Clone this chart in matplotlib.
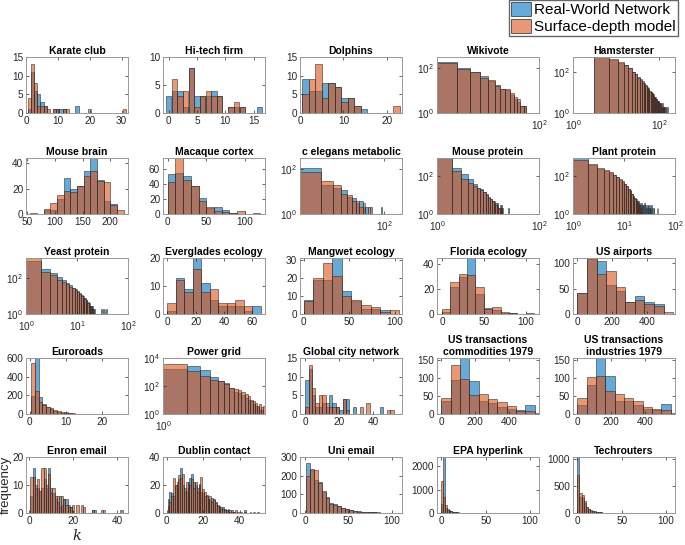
import numpy as np
import matplotlib.pyplot as plt
from matplotlib.patches import Patch
from matplotlib.ticker import NullLocator

plt.rcParams['font.family'] = ['Liberation Sans', 'DejaVu Sans']
plt.rcParams['mathtext.fontset'] = 'custom'
plt.rcParams['mathtext.rm'] = 'Liberation Sans'
plt.rcParams['mathtext.it'] = 'Liberation Sans:italic'
plt.rcParams['mathtext.bf'] = 'Liberation Sans:bold'

BLUE = (0.0, 0.447, 0.741)
ORANGE = (0.85, 0.325, 0.098)

# ---- counts per bin (real network / model) ----
karate_real = [1, 11, 6, 5, 3, 2, 0, 0, 1, 1, 1, 1, 0, 0, 0, 2, 0, 0, 0, 0, 0, 0, 0, 0, 0, 0, 0, 0, 0, 0, 0]
karate_model = [4, 13, 8, 2, 2, 2, 1, 0, 1, 1, 0, 1, 1, 0, 0, 0, 0, 0, 0, 1, 0, 0, 0, 0, 0, 0, 0, 0, 0, 0, 1]

hitech_real = [3, 4, 4, 1, 8, 3, 3, 3, 4, 3, 0, 1, 1, 1, 0, 0, 1]
hitech_model = [0, 6, 3, 4, 8, 1, 3, 4, 3, 3, 0, 1, 2, 1, 0, 0, 0]

dolphins_real = [9, 6, 6, 8, 8, 7, 4, 4, 2, 1, 0, 0, 0, 0, 0]
dolphins_model = [5, 9, 13, 4, 8, 7, 3, 4, 2, 0, 0, 0, 0, 0, 2]

wikivote_real = [185, 93, 66, 42, 26, 17, 12, 10, 6, 4, 3, 2, 2]
wikivote_model = [170, 88, 66, 36, 29, 16, 11, 12, 8, 5, 4, 2, 2]

hamster_real = [520, 380, 270, 215, 150, 100, 75, 55, 42, 34, 26, 22, 19, 15, 12, 11, 9, 7, 6, 6,
                5, 4, 4, 4, 3, 3, 3, 2, 3, 2, 2, 2, 2, 1, 2, 1, 1, 2, 1, 1]
hamster_model = [500, 400, 290, 205, 160, 95, 78, 50, 44, 30, 27, 20, 17, 16, 11, 10, 8, 8, 6, 5,
                 5, 4, 3, 4, 3, 2, 3, 2, 2, 2, 2, 1, 1, 2, 1, 1, 1, 1, 0, 1]

mbrain_real = [0, 0, 3, 3, 12, 28, 20, 22, 34, 44, 27, 10, 8, 0]
mbrain_model = [1, 0, 4, 9, 15, 18, 17, 22, 30, 34, 26, 25, 7, 3]

macaque_real = [53, 55, 51, 38, 22, 8, 10, 5, 1, 0, 0, 1]
macaque_model = [43, 75, 45, 38, 17, 10, 4, 3, 2, 4, 0, 0]

celegans_real = [110, 20, 15, 12, 6, 5, 3, 4, 2, 2, 1, 2, 1, 0, 1, 1, 0, 2, 1, 0]
celegans_model = [74, 30, 20, 8, 7, 4, 4, 2, 3, 1, 2, 1, 1, 1, 0, 0, 1, 1, 0, 1]

mprotein_real = [900, 270, 122, 67, 40, 25, 20, 14, 11, 8, 6, 5, 4, 4, 3, 2, 2, 3, 2, 0, 0, 0, 0, 0, 2, 0]
mprotein_model = [900, 180, 73, 45, 30, 24, 18, 15, 10, 7, 6, 5, 5, 3, 4, 2, 3, 2, 1, 1, 0, 0, 0, 0, 1, 0]

plant_real = [950, 400, 230, 180, 140, 110, 85, 65, 50, 38, 30, 22, 18, 12, 9, 7, 6, 5, 5, 4,
              3, 4, 3, 3, 4, 3, 2, 3, 3, 2, 3, 2, 2, 3, 2, 0, 2, 2, 0, 0,
              0, 0, 0, 2, 0, 2, 0, 0, 0, 0]
plant_model = [750, 420, 270, 200, 160, 120, 95, 70, 55, 40, 30, 22, 16, 11, 8, 6, 5, 4, 3, 3,
               2, 2, 1, 1, 1, 0, 0, 0, 0, 0, 0, 0, 0, 0, 0, 0, 0, 0, 0, 0,
               0, 0, 0, 0, 0, 0, 0, 0, 0, 0]

yeast_real = [950, 330, 195, 113, 80, 55, 40, 30, 25, 20, 15, 12, 10, 8, 6, 5, 4, 3, 3, 3,
              2, 2, 0, 0, 0, 0, 0, 0, 0, 2, 0, 0, 2, 0, 2, 0, 2, 0, 0, 0]
yeast_model = [1400, 230, 150, 85, 60, 49, 35, 28, 22, 18, 14, 10, 8, 7, 6, 4, 3, 3, 2, 2,
               1, 1, 0, 0, 0, 0, 0, 0, 0, 0, 0, 0, 0, 0, 0, 0, 0, 0, 0, 0]

everglades_real = [1, 13, 9, 20, 11, 5, 3, 3, 3, 1, 3]
everglades_model = [4, 12, 8, 16, 8, 9, 4, 4, 5, 3, 0]

mangwet_real = [8, 19, 19, 31, 13, 7, 3, 3, 2, 0]
mangwet_model = [7, 20, 28, 21, 10, 8, 5, 4, 1, 2]

florida_real = [2, 22, 30, 45, 16, 5, 3, 1, 1, 0, 1]
florida_model = [4, 26, 32, 31, 22, 4, 6, 2, 1, 0, 0]

airports_real = [42, 108, 105, 56, 45, 23, 35, 23, 19, 0]
airports_model = [42, 110, 78, 85, 54, 23, 27, 20, 16, 3]

euroroads_real = [190, 600, 185, 110, 75, 50, 35, 22, 15, 10, 7, 5, 4, 3, 2, 2, 1, 0, 0, 0, 0, 0, 0, 0, 0, 1]
euroroads_model = [546, 245, 125, 100, 80, 60, 45, 35, 25, 18, 12, 8, 5, 3, 2, 1, 1, 0, 0, 0, 0, 0, 0, 0, 0, 0]

power_real = [1740, 2500, 1300, 420, 240, 160, 72, 40, 30, 22, 15, 10, 8, 5, 4, 3, 2, 2, 1]
power_model = [3700, 1250, 550, 280, 240, 130, 72, 63, 50, 35, 25, 20, 10, 8, 6, 4, 5, 3, 4]

city_real = [9, 12, 5, 2, 2, 3, 2, 5, 3, 2, 1, 4, 4, 0, 2, 0, 0, 0, 0, 0, 0, 0, 2, 0, 0, 0]
city_model = [2, 13, 7, 3, 5, 5, 3, 2, 2, 2, 0, 4, 1, 0, 0, 0, 2, 0, 3, 0, 0, 0, 0, 0, 1, 1]

commod_real = [37, 95, 155, 90, 37, 30, 20, 15, 12, 26, 0]
commod_model = [45, 135, 97, 53, 55, 42, 32, 22, 8, 8, 3]

indus_real = [25, 80, 155, 105, 35, 35, 25, 13, 12, 27, 0]
indus_model = [45, 103, 105, 65, 55, 45, 35, 18, 15, 10, 3]

enron_real = [6, 16, 9, 9, 8, 9, 12, 9, 16, 9, 7, 5, 4, 6, 3, 5, 5, 3, 2, 0, 0, 0, 0, 0, 0, 0,
              0, 0, 1, 1, 0, 0, 0, 0, 0, 0, 0, 0, 0, 0, 0, 1, 0]
enron_model = [13, 13, 10, 12, 8, 16, 16, 10, 14, 7, 9, 6, 6, 2, 6, 5, 3, 2, 2, 3, 0, 3, 0, 3, 2, 0,
               0, 0, 1, 0, 0, 0, 1, 1, 0, 0, 0, 0, 0, 0, 0, 0, 0]

dublin_real = [10, 15, 14, 12, 20, 18, 24, 32, 20, 18, 16, 22, 25, 28, 22, 20, 18, 21, 15, 14,
               12, 13, 10, 9, 11, 10, 8, 6, 5, 4, 4, 3, 2, 3, 1, 2, 1, 0, 0, 0,
               0, 0, 2, 0, 0, 0, 0, 0, 0, 1]
dublin_model = [5, 8, 12, 25, 20, 22, 27, 25, 28, 15, 22, 18, 20, 24, 18, 22, 15, 20, 26, 17,
                15, 12, 10, 12, 8, 9, 7, 5, 4, 3, 3, 2, 2, 1, 2, 1, 1, 2, 1, 0,
                1, 0, 1, 0, 0, 1, 0, 1, 0, 0]

uni_real = [270, 230, 175, 165, 110, 85, 55, 50, 35, 28, 22, 18, 12, 10, 8, 6, 5, 3, 3, 2, 2, 1, 0, 1]
uni_model = [200, 235, 230, 160, 120, 80, 50, 45, 38, 25, 20, 15, 10, 8, 6, 5, 4, 3, 2, 2, 1, 1, 1, 0]

epa_real = [400, 2400, 200, 150, 100, 70, 50, 35, 25, 20, 15, 12, 10, 8, 7, 6, 5, 4, 4, 3,
            3, 2, 2, 2, 1, 1, 1, 1, 1, 1, 1, 0, 1, 0, 1, 0, 0, 1, 0, 0,
            1, 0, 0, 0, 1, 0, 0, 0, 0, 1, 0, 0, 0]
epa_model = [1370, 700, 350, 180, 120, 80, 60, 45, 35, 25, 20, 15, 12, 10, 8, 6, 5, 4, 3, 3,
             2, 2, 2, 1, 1, 1, 1, 1, 0, 1, 0, 1, 0, 0, 1, 0, 0, 0, 1, 0,
             0, 0, 0, 0, 0, 0, 0, 0, 0, 0, 0, 0, 0]

tech_real = [1040, 300, 280, 180, 110, 70, 45, 35, 25, 18, 14, 10, 8, 6, 5, 4, 3, 3, 2, 2,
             2, 1, 1, 1, 1, 0, 1, 0, 1, 0, 0, 1, 0, 0, 0, 0, 0, 0, 0, 0, 1, 0, 0, 0, 0, 1]
tech_model = [710, 380, 340, 220, 120, 80, 50, 40, 30, 20, 15, 11, 8, 6, 5, 4, 3, 2, 2, 2,
              1, 1, 1, 1, 0, 1, 0, 1, 0, 0, 1, 0, 0, 0, 0, 0, 0, 0, 0, 0, 0, 0, 0, 0, 0, 0]

panels = [
    dict(title='Karate club', real=karate_real, model=karate_model, start=0.5, width=1,
         xlim=(0, 32), ylim=(0, 15), xticks=[0, 10, 20, 30], yticks=[0, 5, 10, 15]),
    dict(title='Hi-tech firm', real=hitech_real, model=hitech_model, start=-0.5, width=1,
         xlim=(-1, 17), ylim=(0, 10), xticks=[0, 5, 10, 15], yticks=[0, 5, 10]),
    dict(title='Dolphins', real=dolphins_real, model=dolphins_model, start=0.5, width=1.5,
         xlim=(0, 23.5), ylim=(0, 15), xticks=[0, 10, 20], yticks=[0, 5, 10, 15]),
    dict(title='Wikivote', real=wikivote_real, model=wikivote_model, start=7.5, width=5, log=True,
         xlim=(7.5, 100), ylim=(1, 300), xticks=[100], yticks=[1, 100]),
    dict(title='Hamsterster', real=hamster_real, model=hamster_model, start=3, width=4, log=True,
         xlim=(1, 230), ylim=(1, 520), xticks=[1, 100], yticks=[1, 100]),
    dict(title='Mouse brain', real=mbrain_real, model=mbrain_model, start=56, width=12,
         xlim=(48, 232), ylim=(0, 44), xticks=[50, 100, 150, 200], yticks=[0, 20, 40]),
    dict(title='Macaque cortex', real=macaque_real, model=macaque_model, start=0, width=10,
         xlim=(-6, 126), ylim=(0, 75), xticks=[0, 50, 100], yticks=[0, 20, 40, 60]),
    dict(title='c elegans metabolic', real=celegans_real, model=celegans_model, start=4, width=5, log=True,
         xlim=(4, 200), ylim=(1, 320), xticks=[100], yticks=[100, 1]),
    dict(title='Mouse protein', real=mprotein_real, model=mprotein_model, start=1, width=1, log=True,
         xlim=(1, 100), ylim=(1, 900), xticks=[1, 100], yticks=[1, 100]),
    dict(title='Plant protein', real=plant_real, model=plant_model, start=1, width=1, log=True,
         xlim=(1, 100), ylim=(1, 900), xticks=[1, 10, 100], yticks=[1, 100]),
    dict(title='Yeast protein', real=yeast_real, model=yeast_model, start=1, width=1, log=True,
         xlim=(1, 100), ylim=(1, 1400), xticks=[1, 10, 100], yticks=[1, 100]),
    dict(title='Everglades ecology', real=everglades_real, model=everglades_model, start=0, width=6,
         xlim=(-3, 69), ylim=(0, 20), xticks=[0, 20, 40, 60], yticks=[0, 10, 20]),
    dict(title='Mangwet ecology', real=mangwet_real, model=mangwet_model, start=0, width=10.5,
         xlim=(-4, 108), ylim=(0, 31), xticks=[0, 50, 100], yticks=[0, 10, 20, 30]),
    dict(title='Florida ecology', real=florida_real, model=florida_model, start=0, width=10,
         xlim=(-6, 116), ylim=(0, 45), xticks=[0, 50, 100], yticks=[0, 20, 40]),
    dict(title='US airports', real=airports_real, model=airports_model, start=0, width=55,
         xlim=(-25, 560), ylim=(0, 110), xticks=[0, 200, 400], yticks=[0, 50, 100]),
    dict(title='Euroroads', real=euroroads_real, model=euroroads_model, start=0.5, width=1,
         xlim=(-1, 27), ylim=(0, 600), xticks=[0, 10, 20], yticks=[0, 200, 400, 600]),
    dict(title='Power grid', real=power_real, model=power_model, start=1, width=1, log=True,
         xlim=(1, 20), ylim=(1, 10000), xticks=[1], yticks=[1, 100, 10000]),
    dict(title='Global city network', real=city_real, model=city_model, start=0, width=2,
         xlim=(-3, 57), ylim=(0, 15), xticks=[0, 20, 40], yticks=[0, 5, 10, 15]),
    dict(title='US transactions\ncommodities 1979', real=commod_real, model=commod_model, start=0, width=55,
         xlim=(-25, 575), ylim=(0, 155), xticks=[0, 200, 400], yticks=[0, 50, 100, 150]),
    dict(title='US transactions\nindustries 1979', real=indus_real, model=indus_model, start=0, width=55,
         xlim=(-25, 575), ylim=(0, 155), xticks=[0, 200, 400], yticks=[0, 50, 100, 150]),
    dict(title='Enron email', real=enron_real, model=enron_model, start=0.5, width=1,
         xlim=(-1.5, 45), ylim=(0, 20), xticks=[0, 20, 40], yticks=[0, 10, 20]),
    dict(title='Dublin contact', real=dublin_real, model=dublin_model, start=0.5, width=1,
         xlim=(-2, 54), ylim=(0, 40), xticks=[0, 20, 40], yticks=[0, 20, 40]),
    dict(title='Uni email', real=uni_real, model=uni_model, start=1, width=4.5,
         xlim=(-6, 112), ylim=(0, 300), xticks=[0, 50, 100], yticks=[0, 100, 200, 300]),
    dict(title='EPA hyperlink', real=epa_real, model=epa_model, start=0, width=2,
         xlim=(-5, 110), ylim=(0, 2400), xticks=[0, 50, 100], yticks=[0, 1000, 2000]),
    dict(title='Techrouters', real=tech_real, model=tech_model, start=0, width=2.3,
         xlim=(-5, 110), ylim=(0, 1040), xticks=[0, 50, 100], yticks=[0, 500, 1000]),
]

W, H = 685, 545
col_left = [26, 163, 300, 437, 573]
row_top = [57, 158, 258, 358, 457]
ax_w, ax_h = 102, 56

fig = plt.figure(figsize=(W / 100, H / 100), dpi=100)

for i, p in enumerate(panels):
    r, c = divmod(i, 5)
    ax = fig.add_axes([col_left[c] / W, 1 - (row_top[r] + ax_h) / H, ax_w / W, ax_h / H])
    is_log = p.get('log', False)
    if is_log:
        ax.set_xscale('log')
        ax.set_yscale('log')
    n = len(p['real'])
    edges = p['start'] + p['width'] * np.arange(n + 1)
    for counts, col in ((p['real'], BLUE), (p['model'], ORANGE)):
        ax.hist(edges[:-1], bins=edges, weights=counts, color=(*col, 0.6),
                edgecolor=(0.15, 0.15, 0.15, 0.75), linewidth=0.5)
    ax.set_xlim(*p['xlim'])
    ax.set_ylim(*p['ylim'])
    ax.set_xticks(p['xticks'])
    ax.set_yticks(p['yticks'])
    if is_log:
        ax.xaxis.set_minor_locator(NullLocator())
        ax.yaxis.set_minor_locator(NullLocator())
    ax.tick_params(direction='in', length=2, width=0.5, labelsize=7.2, colors='0.15',
                   top=True, right=True, pad=2)
    ax.tick_params(axis='x', pad=4 if is_log else 2)
    for s in ax.spines.values():
        s.set_color('0.6')
        s.set_linewidth(0.7)
    ax.set_title(p['title'], fontsize=7.5, fontweight='bold', pad=2.5)

# axis labels on the lower-left panel
fig.text(6 / W, 1 - 485 / H, 'frequency', rotation=90, ha='center', va='center', fontsize=9.5, color='0.15')
fig.text(77 / W, 1 - 536 / H, 'k', fontfamily='DejaVu Serif', style='italic', ha='center', va='center',
         fontsize=10.5, color='0.15')

handles = [Patch(facecolor=(*BLUE, 0.6), edgecolor='0.15', linewidth=0.5, label='Real-World Network'),
           Patch(facecolor=(*ORANGE, 0.6), edgecolor='0.15', linewidth=0.5, label='Surface-depth model')]
fig.legend(handles=handles, loc='upper right', bbox_to_anchor=(678 / W, 1.0), fontsize=11,
           frameon=True, fancybox=False, edgecolor='0.4', framealpha=1,
           handlelength=1.3, handleheight=1.0, handletextpad=0.2, borderpad=0.15,
           labelspacing=0.1, borderaxespad=0)

fig.savefig('out.png', dpi=100)
